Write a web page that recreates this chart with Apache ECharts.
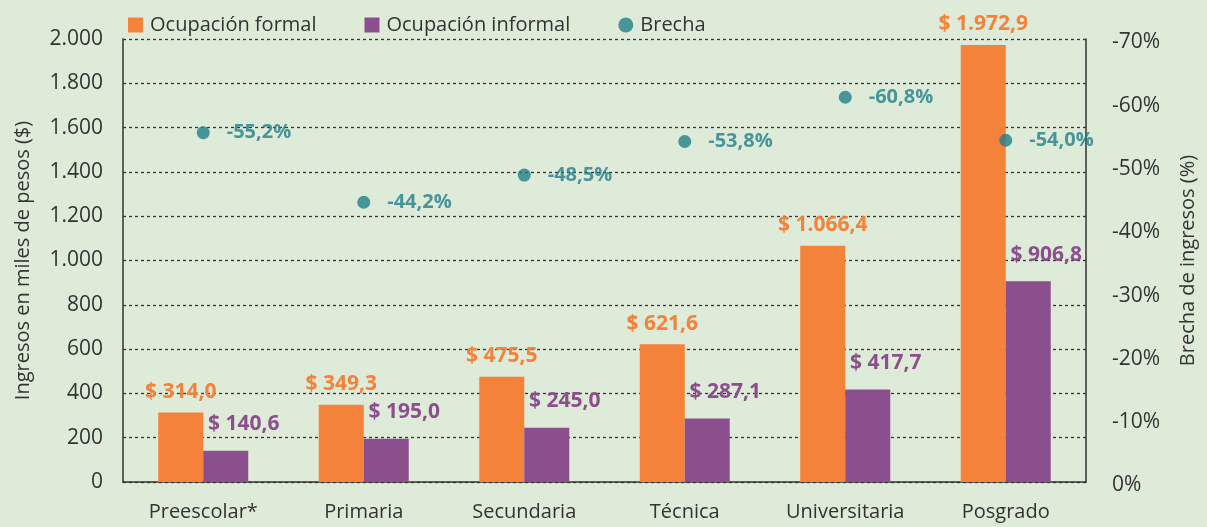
<!DOCTYPE html>
<html>
<head>
<meta charset="utf-8">
<script src="https://cdn.jsdelivr.net/npm/echarts@6/dist/echarts.min.js"></script>
<style>
html,body{margin:0;padding:0;background:#deebd9;}
#chart{width:1207px;height:527px;}
</style>
</head>
<body>
<div id="chart"></div>
<script>
const categories = ['Preescolar*', 'Primaria', 'Secundaria', 'Técnica', 'Universitaria', 'Posgrado'];
const formalValues = [314.0, 349.3, 475.5, 621.6, 1066.4, 1972.9];
const informalValues = [140.6, 195.0, 245.0, 287.1, 417.7, 906.8];
const gapValues = [-55.2, -44.2, -48.5, -53.8, -60.8, -54.0];
const seriesNames = ['Ocupación formal', 'Ocupación informal', 'Brecha'];
const leftAxisRange = { min: 0, max: 2000, interval: 200 };
const rightAxisRange = { min: -70, max: 0, interval: 10 };
const axisNames = ['Ingresos en miles de pesos ($)', 'Brecha de ingresos (%)'];

const FONT = '"Open Sans", "Noto Sans", sans-serif';
const ORANGE = '#f4823b';
const PURPLE = '#8c4f8d';
const TEAL = '#217e8a';
const TEXT = '#333333';

function fmt(v, dec) {
  const s = Math.abs(v) < 1e-9 ? (0).toFixed(dec) : v.toFixed(dec);
  const parts = s.split('.');
  const ip = parts[0].replace(/\B(?=(\d{3})+(?!\d))/g, '.');
  return parts[1] ? ip + ',' + parts[1] : ip;
}

const chart = echarts.init(document.getElementById('chart'), null, { renderer: 'canvas' });
chart.setOption({
  backgroundColor: '#deebd9',
  animation: false,
  textStyle: { fontFamily: FONT },
  legend: {
    left: 123,
    top: 10,
    itemWidth: 15,
    itemHeight: 15,
    itemGap: 48,
    textStyle: { fontFamily: FONT, fontSize: 20, color: TEXT, padding: [0, 0, 0, 2] },
    data: [
      { name: seriesNames[0], icon: 'rect' },
      { name: seriesNames[1], icon: 'rect' },
      { name: seriesNames[2], icon: 'circle', itemStyle: { color: TEAL } }
    ]
  },
  grid: { left: 123, right: 121, top: 39, bottom: 45, containLabel: false },
  xAxis: {
    type: 'category',
    data: categories,
    axisLine: { show: true, lineStyle: { color: '#333', width: 1.5 } },
    axisTick: { show: false },
    axisLabel: { fontFamily: FONT, fontSize: 20, color: TEXT, margin: 20 }
  },
  yAxis: [
    {
      type: 'value',
      min: leftAxisRange.min,
      max: leftAxisRange.max,
      interval: leftAxisRange.interval,
      name: axisNames[0],
      nameLocation: 'middle',
      nameRotate: 90,
      nameGap: 90,
      nameTextStyle: { fontFamily: FONT, fontSize: 20, color: TEXT },
      axisLine: { show: true, lineStyle: { color: '#333', width: 1.5 } },
      axisTick: { show: false },
      axisLabel: { fontFamily: FONT, fontSize: 21, color: TEXT, margin: 20, formatter: v => fmt(v, 0) },
      splitLine: { show: true, lineStyle: { color: '#333', width: 1.3, type: [3, 3] } }
    },
    {
      type: 'value',
      position: 'right',
      inverse: true,
      min: rightAxisRange.min,
      max: rightAxisRange.max,
      interval: rightAxisRange.interval,
      name: axisNames[1],
      nameLocation: 'middle',
      nameRotate: 90,
      nameGap: 92,
      nameTextStyle: { fontFamily: FONT, fontSize: 20, color: TEXT },
      axisLine: { show: true, lineStyle: { color: '#333', width: 1.5 } },
      axisTick: { show: false },
      axisLabel: {
        fontFamily: FONT, fontSize: 21, color: TEXT, margin: 26,
        formatter: v => '{p|' + fmt(v, 0) + '%}',
        rich: { p: { fontFamily: FONT, fontSize: 21, color: TEXT, padding: [7, 0, 0, 0] } }
      },
      splitLine: { show: false }
    }
  ],
  series: [
    {
      name: seriesNames[0],
      type: 'bar',
      yAxisIndex: 0,
      data: formalValues,
      barWidth: 45,
      barGap: '0%',
      itemStyle: { color: ORANGE },
      label: {
        show: true, position: 'top', distance: 10,
        fontFamily: FONT, fontSize: 21, fontWeight: 'bold', color: ORANGE,
        formatter: p => '$ ' + fmt(p.value, 1)
      }
    },
    {
      name: seriesNames[1],
      type: 'bar',
      yAxisIndex: 0,
      data: informalValues,
      barWidth: 45,
      barGap: '0%',
      itemStyle: { color: PURPLE },
      label: {
        show: true, position: 'top', distance: 16, offset: [18, 0],
        fontFamily: FONT, fontSize: 21, fontWeight: 'bold', color: PURPLE,
        formatter: p => '$ ' + fmt(p.value, 1)
      }
    },
    {
      name: seriesNames[2],
      type: 'scatter',
      yAxisIndex: 1,
      data: gapValues,
      symbol: 'circle',
      symbolSize: 13,
      itemStyle: { color: TEAL },
      z: 5,
      label: {
        show: true, position: 'right', distance: 17,
        fontFamily: FONT, fontSize: 20, fontWeight: 'bold', color: TEAL,
        formatter: p => fmt(p.value, 1) + '%'
      }
    }
  ]
});
</script>
</body>
</html>
